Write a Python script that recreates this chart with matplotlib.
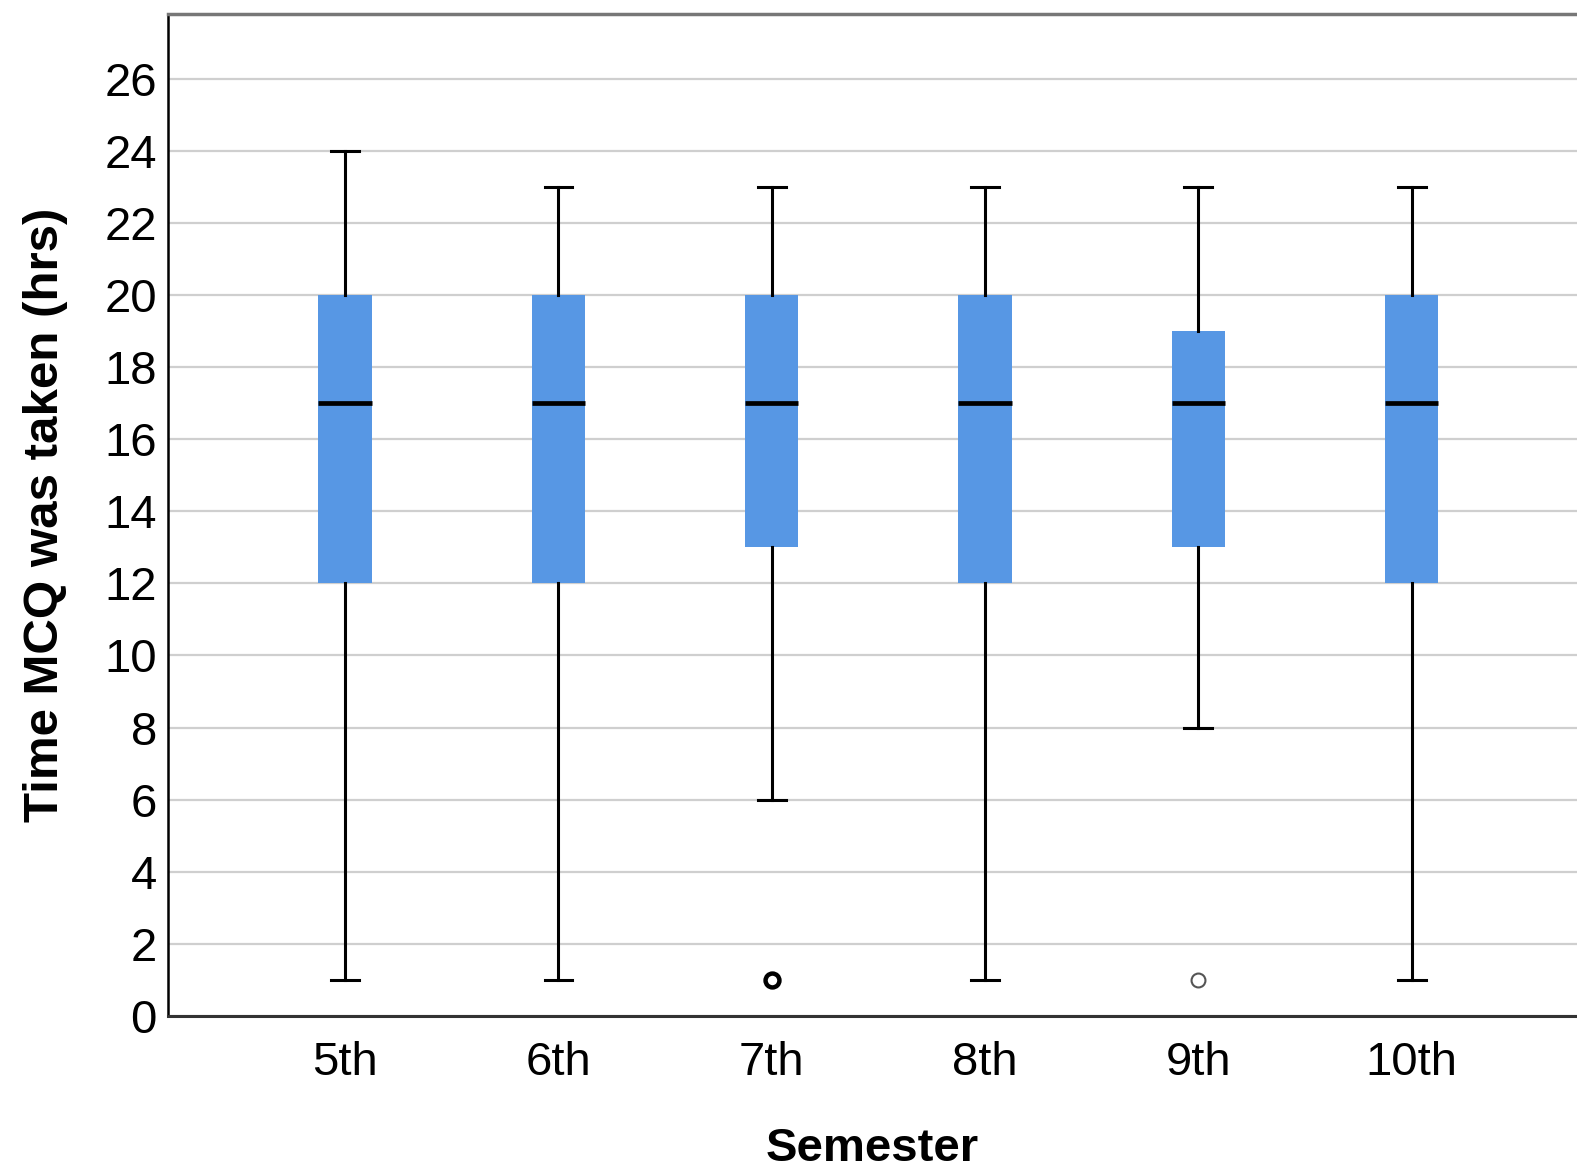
import matplotlib.pyplot as plt
import numpy as np

plt.rcParams['font.family'] = ['Liberation Sans', 'DejaVu Sans']

semesters = ['5th', '6th', '7th', '8th', '9th', '10th']
whisker_lo = [1, 1, 6, 1, 8, 1]
q1 = [12, 12, 13, 12, 13, 12]
medians = [17, 17, 17, 17, 17, 17]
q3 = [20, 20, 20, 20, 19, 20]
whisker_hi = [24, 23, 23, 23, 23, 23]
outliers = [[], [], [1], [], [1], []]

BOX_COLOR = '#5797E4'

stats = []
for i, name in enumerate(semesters):
    stats.append({
        'label': name,
        'whislo': whisker_lo[i],
        'q1': q1[i],
        'med': medians[i],
        'q3': q3[i],
        'whishi': whisker_hi[i],
        'fliers': outliers[i],
    })

fig = plt.figure(figsize=(15.77, 11.73), dpi=100)
ax = fig.add_axes([168 / 1577, 1 - 1016 / 1173, 1 - 168 / 1577, (1016 - 14) / 1173])

pos = np.arange(len(semesters))
bp = ax.bxp(stats, positions=pos, widths=0.25, patch_artist=True,
            boxprops=dict(facecolor=BOX_COLOR, edgecolor=BOX_COLOR, linewidth=0),
            medianprops=dict(color='black', linewidth=3.4),
            whiskerprops=dict(color='black', linewidth=2.2),
            capprops=dict(color='black', linewidth=2.2),
            capwidths=0.13,
            flierprops=dict(marker='o', markersize=10, markerfacecolor='white',
                            markeredgecolor='#555555', markeredgewidth=1.5),
            zorder=3)

# 7th semester outlier drawn heavier (overlapping cases)
bp['fliers'][2].set_markeredgecolor('black')
bp['fliers'][2].set_markeredgewidth(3.2)

ax.set_xlim(-0.83, 5.775)
ax.set_ylim(0, 27.79)
ax.set_yticks(np.arange(0, 27, 2))
ax.yaxis.grid(True, color='#CFCFCF', linewidth=1.6, zorder=0)
ax.set_axisbelow(True)

ax.tick_params(axis='both', length=0, labelsize=34, pad=8)
ax.tick_params(axis='x', pad=18)

ax.spines['right'].set_visible(False)
ax.spines['top'].set_color('#777777')
ax.spines['top'].set_linewidth(2.5)
ax.spines['left'].set_color('black')
ax.spines['left'].set_linewidth(1.8)
ax.spines['bottom'].set_color('#333333')
ax.spines['bottom'].set_linewidth(2.2)

ax.set_xlabel('Semester', fontsize=34, fontweight='bold', labelpad=30)
ax.set_ylabel('Time MCQ was taken (hrs)', fontsize=35.5, fontweight='bold', labelpad=26)

fig.savefig('out.png', dpi=100)
